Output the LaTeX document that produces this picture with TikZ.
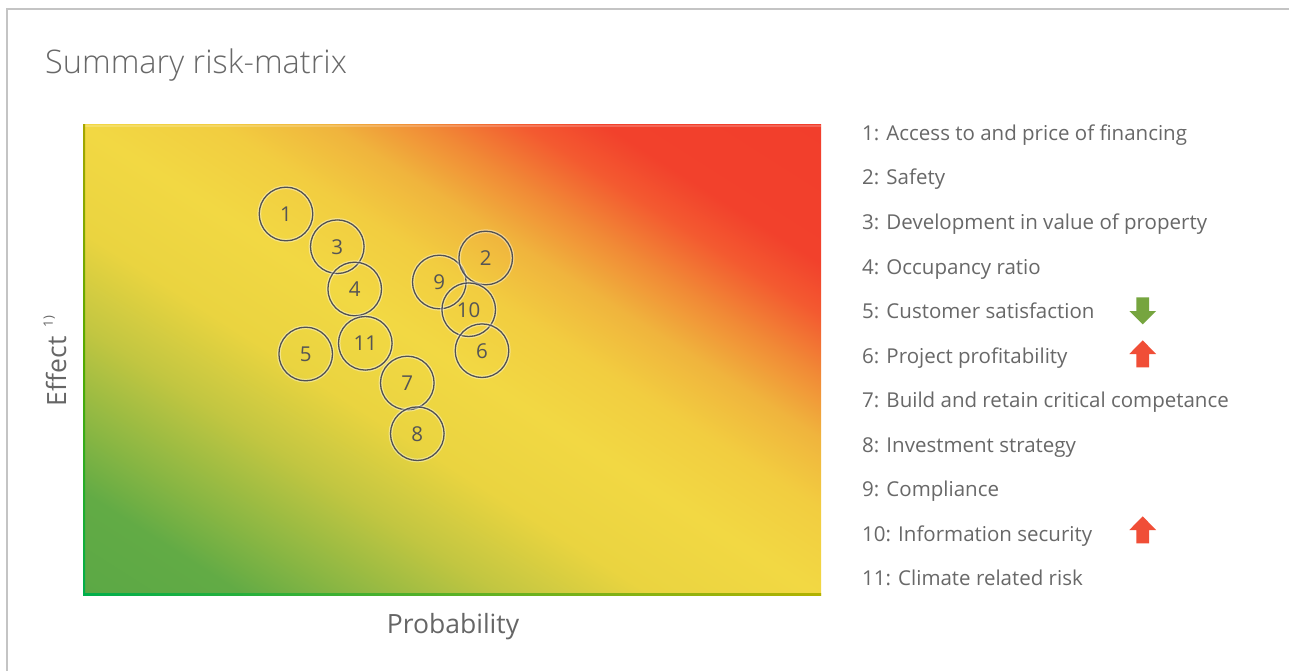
\documentclass[tikz,border=0pt]{standalone}
\usepackage{fontspec}
\setmainfont{Open Sans}
\newfontfamily\lightfont{Open Sans Light}
\definecolor{frame}{HTML}{C4C4C4}
\definecolor{txt}{HTML}{686868}
\definecolor{ctxt}{HTML}{555555}
\definecolor{cline}{HTML}{505052}
\definecolor{g0}{HTML}{5BA845}
\definecolor{g1}{HTML}{62AB45}
\definecolor{g2}{HTML}{8CB743}
\definecolor{g3}{HTML}{C2C641}
\definecolor{y0}{HTML}{EAD440}
\definecolor{y1}{HTML}{F2D843}
\definecolor{y2}{HTML}{F2CD40}
\definecolor{o0}{HTML}{F0B43D}
\definecolor{o1}{HTML}{F18A36}
\definecolor{o2}{HTML}{F35A30}
\definecolor{r0}{HTML}{F2412C}
\definecolor{r1}{HTML}{F23E2C}
\definecolor{arrred}{HTML}{F04E37}
\definecolor{arrgreen}{HTML}{76A53F}
\pgfdeclarehorizontalshading{risk}{100bp}{color(0bp)=(g0); color(25bp)=(g0); color(30.625bp)=(g1); color(34.375bp)=(g2); color(39.375bp)=(g3); color(44.375bp)=(y0); color(50bp)=(y1); color(54.5bp)=(y2); color(58.25bp)=(o0); color(61.5bp)=(o1); color(64.75bp)=(o2); color(67.5bp)=(r0); color(75bp)=(r1); color(100bp)=(r1)}
\tikzset{
  riskc/.style={circle, minimum size=53.6pt, inner sep=0pt, draw=cline, line width=1.3pt,
    text=ctxt, font=\fontsize{20.5}{20.5}\selectfont,
    preaction={draw=white, line width=3.8pt, opacity=0.4}},
  leg/.style={anchor=base west, inner sep=0pt, text=txt, font=\fontsize{20.5}{22}\selectfont},
  axlab/.style={inner sep=0pt, text=ctxt!90!white, font=\fontsize{26.5}{28}\selectfont},
}
\begin{document}
\begin{tikzpicture}[x=1pt,y=-1pt]
\useasboundingbox[fill=white] (0,0) rectangle (1289,671);
% frame
\draw[frame, line width=1.5pt] (7,671) -- (7,9) -- (1289,9);
% title
\node[anchor=base west, inner sep=0pt, text=txt, font=\lightfont\fontsize{32.5}{34}\selectfont] (title) at (45,73.5) {Summary risk-matrix};
% matrix background
\begin{scope}
\clip (83,125) rectangle (821,595);
\begin{scope}[transform canvas={rotate around={57.5:(452,360)}}]
\shade[shading=risk] (52,-300) rectangle (852,1020);
\end{scope}
\fill[white, opacity=0.2] (83,125) rectangle (821,127.5);
\end{scope}
\shade[top color=olive!70!yellow, bottom color=green!55!black!70!cyan] (83,125) rectangle (85,595);
\shade[left color=green!55!black!70!cyan, right color=olive!60!yellow] (83,593.5) rectangle (821,595.5);
% axis labels
\node[axlab] (prob) at (453,627) {Probability};
\node[axlab, rotate=90] (eff) at (55,361) {Effect\hspace{0.35em}\raisebox{0.5em}{\fontsize{13}{13}\selectfont 1)}};
% risk circles
\node[riskc] (c1) at (286,214) {1};
\node[riskc] (c3) at (337.3,246.7) {3};
\node[riskc] (c4) at (354.7,289) {4};
\node[riskc] (c11) at (365.3,343.3) {11};
\node[riskc] (c5) at (305.7,354) {5};
\node[riskc] (c7) at (407.3,383) {7};
\node[riskc] (c8) at (417.3,433.7) {8};
\node[riskc] (c9) at (439.3,282) {9};
\node[riskc] (c2) at (485.7,258) {2};
\node[riskc] (c10) at (468.7,309.7) {10};
\node[riskc] (c6) at (482,350.7) {6};
% legend
\node[leg] (l1) at (862,140.5) {1: Access to and price of financing};
\node[leg] (l2) at (862,185) {2: Safety};
\node[leg] (l3) at (862,229.5) {3: Development in value of property};
\node[leg] (l4) at (862,274) {4: Occupancy ratio};
\node[leg] (l5) at (862,318.5) {5: Customer satisfaction};
\node[leg] (l6) at (862,363) {6: Project profitability};
\node[leg] (l7) at (862,407.5) {7: Build and retain critical competance};
\node[leg] (l8) at (862,452) {8: Investment strategy};
\node[leg] (l9) at (862,496.5) {9: Compliance};
\node[leg] (l10) at (862,541) {10: Information security};
\node[leg] (l11) at (862,585.5) {11: Climate related risk};
% trend arrows
\coordinate (a5) at (1142.7,297.3);
\coordinate (a6) at (1142.7,367.3);
\coordinate (a10) at (1142.7,543.3);
\fill[arrgreen] (a5) ++(-6.3,0) -- ++(12.6,0) -- ++(0,13.7) -- ++(7,0) -- ++(-13.3,13.3) -- ++(-13.4,-13.3) -- ++(7.1,0) -- cycle;
\fill[arrred] (a6) ++(-6.3,0) -- ++(12.6,0) -- ++(0,-13.3) -- ++(7,0) -- ++(-13.3,-13.7) -- ++(-13.4,13.7) -- ++(7.1,0) -- cycle;
\fill[arrred] (a10) ++(-6.3,0) -- ++(12.6,0) -- ++(0,-13.3) -- ++(7,0) -- ++(-13.3,-13.7) -- ++(-13.4,13.7) -- ++(7.1,0) -- cycle;
\end{tikzpicture}
\end{document}
